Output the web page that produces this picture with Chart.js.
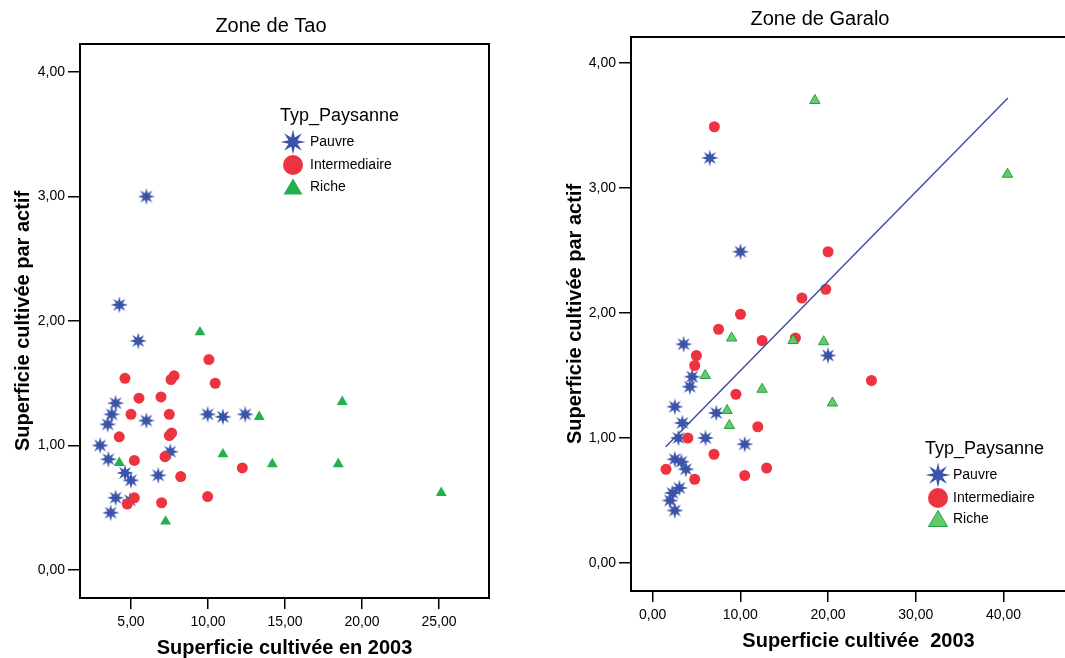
<!DOCTYPE html>
<html>
<head>
<meta charset="utf-8">
<script src="https://cdn.jsdelivr.net/npm/chart.js@4.4.0/dist/chart.umd.min.js"></script>
<style>
  html, body { margin: 0; padding: 0; background: #fff; overflow: hidden; width: 1065px; height: 658px; }
  .box { position: absolute; top: 0; height: 658px; }
  #taoBox { left: 0; width: 542px; }
  #garaloBox { left: 545px; width: 550px; }
</style>
</head>
<body>
<div class="box" id="taoBox"><canvas id="taoChart"></canvas></div>
<div class="box" id="garaloBox"><canvas id="garaloChart"></canvas></div>
<script>
// Zone de Tao
const taoPauvreX = [6.0, 4.24, 5.47, 4.0, 3.75, 3.49, 6.0, 3.0, 3.53, 9.98, 10.97, 12.42, 7.55, 4.61, 5.0, 6.77, 4.0, 4.94, 3.68];
const taoPauvreY = [3.00, 2.13, 1.84, 1.34, 1.25, 1.17, 1.20, 1.00, 0.89, 1.25, 1.23, 1.25, 0.95, 0.78, 0.72, 0.76, 0.58, 0.56, 0.46];
const taoInterX = [10.06, 4.61, 7.6, 7.8, 10.47, 5.52, 6.95, 5.0, 7.49, 7.64, 7.49, 4.24, 5.22, 7.21, 8.23, 12.23, 5.22, 4.76, 6.99, 9.98];
const taoInterY = [1.69, 1.54, 1.53, 1.56, 1.50, 1.38, 1.39, 1.25, 1.25, 1.10, 1.08, 1.07, 0.88, 0.91, 0.75, 0.82, 0.58, 0.53, 0.54, 0.59];
const taoRicheX = [9.48, 18.72, 13.33, 10.97, 4.24, 14.18, 18.46, 25.15, 7.25];
const taoRicheY = [1.91, 1.35, 1.23, 0.93, 0.86, 0.85, 0.85, 0.62, 0.39];

// Zone de Garalo
const garPauvreX = [6.52, 10.02, 3.54, 20.0, 4.51, 4.25, 2.53, 7.26, 3.39, 2.94, 6.03, 10.5, 2.53, 3.28, 3.8, 3.05, 2.27, 1.98, 2.53];
const garPauvreY = [3.24, 2.49, 1.75, 1.66, 1.49, 1.41, 1.25, 1.20, 1.12, 1.00, 1.00, 0.95, 0.83, 0.81, 0.75, 0.60, 0.56, 0.50, 0.42];
const garInterX = [7.04, 20.0, 19.74, 17.02, 10.02, 7.52, 12.48, 16.28, 4.99, 4.80, 24.95, 9.5, 11.99, 4.02, 7.0, 1.53, 13.0, 4.8, 10.5];
const garInterY = [3.49, 2.49, 2.19, 2.12, 1.99, 1.87, 1.78, 1.80, 1.66, 1.58, 1.46, 1.35, 1.09, 1.00, 0.87, 0.75, 0.76, 0.67, 0.70];
const garRicheX = [18.5, 40.45, 9.01, 16.01, 19.5, 6.0, 12.48, 20.5, 8.49, 8.75];
const garRicheY = [3.70, 3.11, 1.80, 1.78, 1.77, 1.50, 1.39, 1.28, 1.22, 1.10];

// droite de régression (Garalo)
const regX = [1.5, 40.5];
const regY = [0.93, 3.72];

// graduations
const taoXTicks = [5, 10, 15, 20, 25];
const garXTicks = [0, 10, 20, 30, 40];
const yTicks = [0, 1, 2, 3, 4];

const categories = ['Pauvre', 'Intermediaire', 'Riche'];

const FONT = '"Liberation Sans", Arial, sans-serif';
const BLUE = '#3a52a8';
const RED = '#ee3340';
const GREEN = '#22b14c';
const LIGHT_GREEN = '#5fcd6c';
const DARK_GREEN = '#2a9f44';

// étoile à 8 branches pleine
function makeStar(size, outer, inner) {
  const c = document.createElement('canvas');
  c.width = size; c.height = size;
  const g = c.getContext('2d');
  const m = size / 2;
  g.beginPath();
  for (let i = 0; i < 16; i++) {
    const r = i % 2 === 0 ? outer : inner;
    const a = -Math.PI / 2 + i * Math.PI / 8;
    const px = m + r * Math.cos(a), py = m + r * Math.sin(a);
    if (i === 0) g.moveTo(px, py); else g.lineTo(px, py);
  }
  g.closePath();
  g.fillStyle = BLUE;
  g.fill();
  return c;
}

const starSmall = makeStar(18, 8.6, 3.6);
const starBig = makeStar(26, 12.5, 4.8);

const toPoints = (xs, ys) => xs.map((x, i) => ({ x: x, y: ys[i] }));
const fmt = v => v.toFixed(2).replace('.', ',');

// cadre noir autour de la zone de tracé
const framePlugin = {
  id: 'frame',
  afterDraw(chart) {
    const { ctx, chartArea: a } = chart;
    ctx.save();
    ctx.strokeStyle = '#000';
    ctx.lineWidth = 2;
    ctx.strokeRect(a.left, a.top, a.right - a.left, a.bottom - a.top);
    ctx.restore();
  }
};

// légende Typ_Paysanne dans la zone de tracé
const typLegend = {
  id: 'typLegend',
  afterDraw(chart, args, opts) {
    const { ctx, chartArea } = chart;
    const x0 = chartArea.left + opts.x;
    const y0 = chartArea.top + opts.y;
    ctx.save();
    ctx.fillStyle = '#000';
    ctx.textBaseline = 'middle';
    ctx.textAlign = 'left';
    ctx.font = '18px ' + FONT;
    ctx.fillText('Typ_Paysanne', x0, y0);
    categories.forEach((label, i) => {
      const cy = y0 + opts.rows[i];
      const cx = x0 + opts.markX;
      if (i === 0) {
        ctx.drawImage(starBig, cx - 13, cy - 13);
      } else if (i === 1) {
        ctx.beginPath();
        ctx.arc(cx, cy, 10, 0, Math.PI * 2);
        ctx.fillStyle = RED;
        ctx.fill();
      } else {
        ctx.beginPath();
        ctx.moveTo(cx, cy - 8.5);
        ctx.lineTo(cx - 9.5, cy + 7.5);
        ctx.lineTo(cx + 9.5, cy + 7.5);
        ctx.closePath();
        ctx.fillStyle = opts.triFill;
        ctx.fill();
        if (opts.triBorder) {
          ctx.strokeStyle = opts.triBorder;
          ctx.lineWidth = 1;
          ctx.stroke();
        }
      }
      ctx.fillStyle = '#000';
      ctx.font = '14px ' + FONT;
      ctx.fillText(label, x0 + opts.textX, cy);
    });
    ctx.restore();
  }
};

function buildChart(id, o) {
  const ctx = document.getElementById(id).getContext('2d');
  const scales = {
    x: {
      type: 'linear', position: 'bottom', min: o.xMin, max: o.xMax,
      afterBuildTicks: s => { s.ticks = o.xTicks.map(v => ({ value: v })); },
      afterFit: s => { s.height = o.xHeight; },
      grid: { display: true, drawOnChartArea: false, drawTicks: true, tickLength: 11, color: '#000', lineWidth: 1.5 },
      border: { display: false },
      ticks: { color: '#000', font: { family: FONT, size: 14 }, padding: 5, maxRotation: 0, callback: fmt },
      title: { display: true, text: o.xTitle, color: '#000', font: { family: FONT, size: 20, weight: 'bold' }, padding: { top: 0, bottom: o.xTitlePad } }
    },
    y: {
      type: 'linear', position: 'left', min: o.yMin, max: o.yMax,
      afterBuildTicks: s => { s.ticks = yTicks.map(v => ({ value: v })); },
      afterFit: s => { s.width = o.yWidth; },
      grid: { display: true, drawOnChartArea: false, drawTicks: true, tickLength: 12, color: '#000', lineWidth: 1.5 },
      border: { display: false },
      ticks: { color: '#000', font: { family: FONT, size: 14 }, padding: 3, callback: fmt },
      title: { display: true, text: 'Superficie cultivée par actif', color: '#000', font: { family: FONT, size: 20, weight: 'bold' }, padding: { top: o.yTitlePad, bottom: 0 } }
    }
  };
  if (o.rightGap) {
    // axe vide pour laisser de la place à droite
    scales.pad = {
      axis: 'y', type: 'linear', position: 'right', display: true,
      grid: { display: false }, border: { display: false }, ticks: { display: false },
      afterFit: s => { s.width = o.rightGap; }
    };
  }
  return new Chart(ctx, {
    type: 'scatter',
    data: { datasets: o.datasets },
    options: {
      responsive: true,
      maintainAspectRatio: false,
      animation: false,
      layout: { padding: 0 },
      plugins: {
        legend: { display: false },
        tooltip: { enabled: false },
        title: { display: true, text: o.title, color: '#000', font: { family: FONT, size: 20, weight: 'normal' }, padding: o.titlePad },
        typLegend: o.legend
      },
      scales: scales
    },
    plugins: [framePlugin, typLegend]
  });
}

buildChart('taoChart', {
  title: 'Zone de Tao',
  titlePad: { top: 14, bottom: 6 },
  xMin: 1.69, xMax: 28.25, xTicks: taoXTicks, xHeight: 60, xTitlePad: -2,
  xTitle: 'Superficie cultivée en 2003',
  yMin: -0.225, yMax: 4.225, yWidth: 80, yTitlePad: 11,
  rightGap: 53,
  legend: { x: 200, y: 72, markX: 13, textX: 30, rows: [26, 49, 71], triFill: GREEN },
  datasets: [
    { label: 'Riche', data: toPoints(taoRicheX, taoRicheY), order: 0, pointStyle: 'triangle', radius: 6.3, backgroundColor: GREEN, borderColor: GREEN, borderWidth: 0 },
    { label: 'Intermediaire', data: toPoints(taoInterX, taoInterY), order: 1, pointStyle: 'circle', radius: 5.5, backgroundColor: RED, borderColor: RED, borderWidth: 0 },
    { label: 'Pauvre', data: toPoints(taoPauvreX, taoPauvreY), order: 2, pointStyle: starSmall, radius: 8, backgroundColor: BLUE, borderColor: BLUE }
  ]
});

buildChart('garaloChart', {
  title: 'Zone de Garalo',
  titlePad: { top: 7, bottom: 6 },
  xMin: -2.46, xMax: 49.4, xTicks: garXTicks, xHeight: 67, xTitlePad: 5,
  xTitle: 'Superficie cultivée  2003',
  yMin: -0.224, yMax: 4.208, yWidth: 86, yTitlePad: 18,
  rightGap: 0,
  legend: { x: 294, y: 412, markX: 13, textX: 28, rows: [26, 49, 70], triFill: LIGHT_GREEN, triBorder: DARK_GREEN },
  datasets: [
    { type: 'line', label: 'Régression', data: toPoints(regX, regY), order: -1, borderColor: BLUE, borderWidth: 1.5, pointRadius: 0, fill: false },
    { label: 'Riche', data: toPoints(garRicheX, garRicheY), order: 0, pointStyle: 'triangle', radius: 6, backgroundColor: LIGHT_GREEN, borderColor: DARK_GREEN, borderWidth: 1 },
    { label: 'Intermediaire', data: toPoints(garInterX, garInterY), order: 1, pointStyle: 'circle', radius: 5.5, backgroundColor: RED, borderColor: RED, borderWidth: 0 },
    { label: 'Pauvre', data: toPoints(garPauvreX, garPauvreY), order: 2, pointStyle: starSmall, radius: 8, backgroundColor: BLUE, borderColor: BLUE }
  ]
});
</script>
</body>
</html>
